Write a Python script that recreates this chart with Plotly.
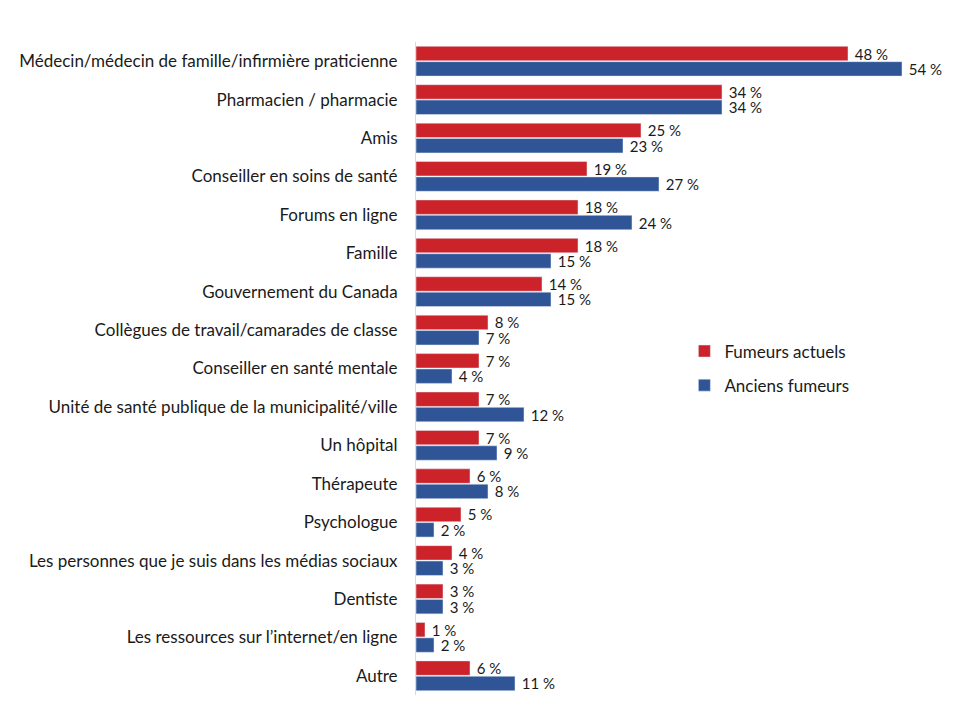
import plotly.graph_objects as go

categories = [
    "Médecin/médecin de famille/infirmière praticienne",
    "Pharmacien / pharmacie",
    "Amis",
    "Conseiller en soins de santé",
    "Forums en ligne",
    "Famille",
    "Gouvernement du Canada",
    "Collègues de travail/camarades de classe",
    "Conseiller en santé mentale",
    "Unité de santé publique de la municipalité/ville",
    "Un hôpital",
    "Thérapeute",
    "Psychologue",
    "Les personnes que je suis dans les médias sociaux",
    "Dentiste",
    "Les ressources sur l’internet/en ligne",
    "Autre",
]
fumeurs_actuels = [48, 34, 25, 19, 18, 18, 14, 8, 7, 7, 7, 6, 5, 4, 3, 1, 6]
anciens_fumeurs = [54, 34, 23, 27, 24, 15, 15, 7, 4, 12, 9, 8, 2, 3, 3, 2, 11]

FONT = "Lato, 'Open Sans', Arial, sans-serif"
RED = "#CC2229"
BLUE = "#2F5597"
TXT = "#1a1a1a"

fig = go.Figure()
fig.add_trace(go.Bar(
    y=categories, x=fumeurs_actuels, orientation="h", name="Fumeurs actuels",
    legendgroup="a", marker_color=RED,
    text=[f"\u00a0{v}\u202f%" for v in fumeurs_actuels],
    textposition="outside", cliponaxis=False, constraintext="none",
    textfont=dict(family=FONT, size=15, color=TXT),
))
fig.add_trace(go.Bar(
    y=categories, x=anciens_fumeurs, orientation="h", name="Anciens fumeurs",
    legendgroup="b", marker_color=BLUE,
    text=[f"\u00a0{v}\u202f%" for v in anciens_fumeurs],
    textposition="outside", cliponaxis=False, constraintext="none",
    textfont=dict(family=FONT, size=15, color=TXT),
))

fig.update_layout(
    width=952, height=712,
    margin=dict(l=408, r=4, t=34, b=25, autoexpand=False),
    paper_bgcolor="white", plot_bgcolor="white",
    barmode="group", bargap=0.2, bargroupgap=0.06,
    font=dict(family=FONT, size=17, color=TXT),
    showlegend=True,
    legend=dict(x=0.497, y=0.50, xanchor="left", yanchor="middle",
                traceorder="grouped", tracegroupgap=9,
                font=dict(family=FONT, size=17, color=TXT),
                bgcolor="rgba(0,0,0,0)"),
)
fig.update_xaxes(range=[0, 60], visible=False, showgrid=False, zeroline=False)
fig.update_yaxes(autorange="reversed", showline=True, linecolor="#D9D9D9",
                 linewidth=1, ticks="", showgrid=False, ticklabelstandoff=14,
                 automargin=False,
                 tickfont=dict(family=FONT, size=17, color=TXT))

fig.write_html("out.html")
